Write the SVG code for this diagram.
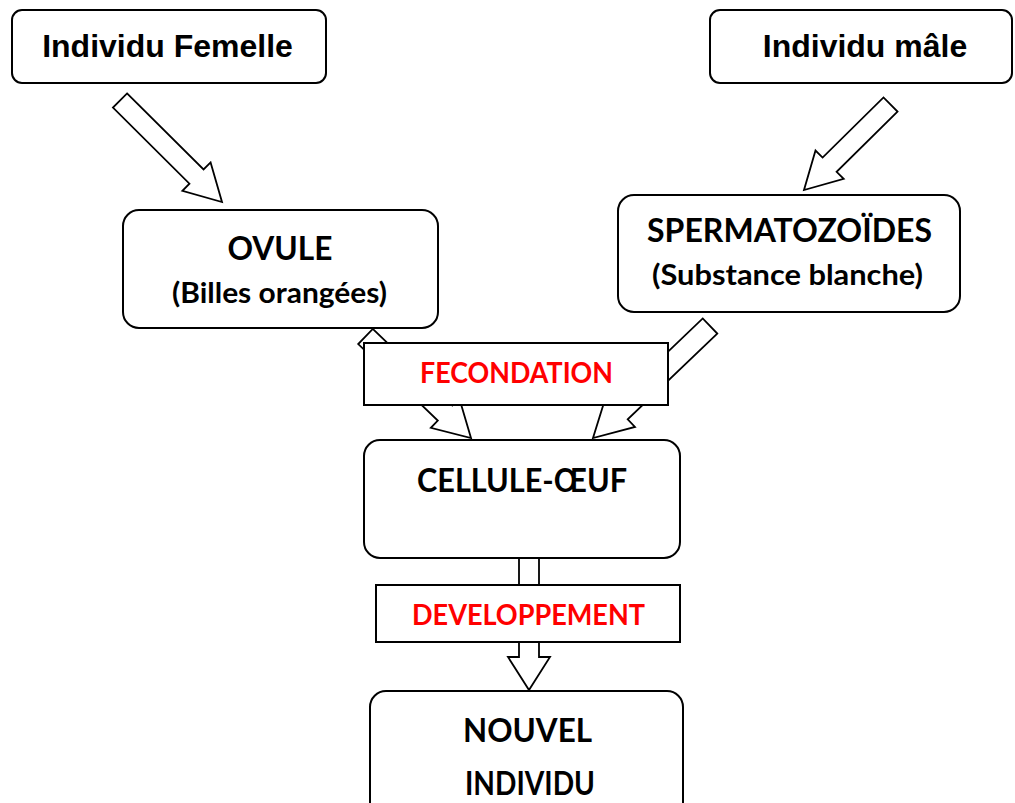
<svg xmlns="http://www.w3.org/2000/svg" width="1015" height="803" viewBox="0 0 1015 803">
<style>
.box{fill:#fff;stroke:#000;stroke-width:2}
.arr{fill:#fff;stroke:#000;stroke-width:1.8;stroke-linejoin:miter}
.comic{font-family:"Liberation Sans",Arial,sans-serif;font-weight:bold;font-size:32px;fill:#000;text-anchor:middle}
.cal{font-family:Lato,"Open Sans",sans-serif;font-weight:bold;fill:#000;text-anchor:middle}
.red{font-family:Lato,"Open Sans",sans-serif;font-weight:bold;fill:#ff0000;text-anchor:middle;font-size:29px}
</style>
<rect width="1015" height="803" fill="#fff"/>
<g id="connectors">
<polygon class="arr" points="127.05,93.41 203.55,169.5 210.6,162.4 222,202 182.4,190.8 189.45,183.7 112.95,107.6"/>
<polygon class="arr" points="897.5,111.6 836.6,171.8 843.7,178.9 804,190 815.5,150.5 822.6,157.6 883.5,97.4"/>
<polygon class="arr" points="372.78,328.93 452.34,405.47 459.27,398.27 471,438 430.85,427.81 437.78,420.61 358.22,344.07"/>
<polygon class="arr" points="717.26,333.58 627.7,419.3 634.96,426.9 593,438 605.92,396.56 613.18,404.15 702.74,318.42"/>
<polygon class="arr" points="519,556 539,556 539,657 550,657 529,690 508,657 519,657"/>
</g>
<g id="femelle">
<rect class="box" x="12" y="10" width="314" height="73" rx="10"/>
<text class="comic" x="167.5" y="57">Individu Femelle</text>
</g>
<g id="male">
<rect class="box" x="710" y="10" width="302" height="73" rx="10"/>
<text class="comic" x="865" y="57">Individu mâle</text>
</g>
<g id="ovule">
<rect class="box" x="123" y="210" width="315" height="118" rx="16"/>
<text class="cal" x="280" y="260" font-size="33" textLength="105" lengthAdjust="spacingAndGlyphs">OVULE</text>
<text class="cal" x="279.5" y="303" font-size="29" textLength="215" lengthAdjust="spacingAndGlyphs">(Billes orangées)</text>
</g>
<g id="spermatozoides">
<rect class="box" x="618" y="195" width="342" height="117" rx="16"/>
<text class="cal" x="789.5" y="242" font-size="33" textLength="285" lengthAdjust="spacingAndGlyphs">SPERMATOZOÏDES</text>
<text class="cal" x="787.5" y="285" font-size="29" textLength="271" lengthAdjust="spacingAndGlyphs">(Substance blanche)</text>
</g>
<g id="fecondation">
<rect class="box" x="364" y="343" width="304" height="62"/>
<text class="red" x="516.5" y="383" textLength="193" lengthAdjust="spacingAndGlyphs">FECONDATION</text>
</g>
<g id="cellule-oeuf">
<rect class="box" x="364" y="440" width="316" height="118" rx="16"/>
<text class="cal" x="522" y="492" font-size="33" textLength="210" lengthAdjust="spacingAndGlyphs">CELLULE-ŒUF</text>
</g>
<g id="developpement">
<rect class="box" x="376" y="585" width="304" height="57"/>
<text class="red" x="528.5" y="625" textLength="233" lengthAdjust="spacingAndGlyphs">DEVELOPPEMENT</text>
</g>
<g id="nouvel-individu">
<rect class="box" x="370" y="691" width="313" height="130" rx="16"/>
<text class="cal" x="527.5" y="742" font-size="33" textLength="129" lengthAdjust="spacingAndGlyphs">NOUVEL</text>
<text class="cal" x="530" y="795" font-size="33" textLength="130" lengthAdjust="spacingAndGlyphs">INDIVIDU</text>
</g>
</svg>
